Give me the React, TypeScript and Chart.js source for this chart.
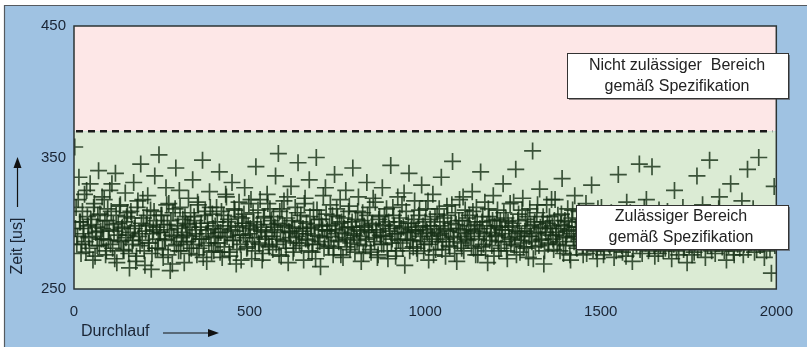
import React, { useEffect, useRef } from "react";
import { Chart, registerables } from "chart.js";

Chart.register(...registerables);

// Run number step between plotted samples (two interleaved sample sets)
const RUN_STEP = 4;

// Measured time per run [us], runs 2, 6, 10, ...
const zeitWerte: number[] = [
  358, 312, 290, 335, 301, 284, 296, 322, 278, 305, 289, 330, 299, 272, 315, 293, 283, 340, 307, 288,
  296, 318, 276, 302, 287, 325, 309, 281, 294, 338, 270, 300, 313, 286, 297, 279, 323, 305, 291, 266,
  309, 284, 331, 298, 275, 317, 292, 345, 287, 304, 268, 299, 321, 285, 310, 277, 295, 336, 302, 281,
  352, 293, 306, 274, 288, 327, 299, 315, 264, 291, 308, 283, 342, 296, 279, 312, 289, 303, 270, 300,
  286, 319, 297, 281, 333, 305, 292, 276, 314, 288, 300, 348, 283, 309, 271, 295, 324, 290, 307, 279,
  298, 312, 285, 339, 293, 274, 306, 289, 320, 301, 278, 295, 331, 287, 310, 269, 297, 316, 284, 304,
  291, 327, 300, 282, 315, 296, 273, 308, 289, 343, 299, 285, 318, 294, 277, 305, 290, 322, 283, 311,
  302, 280, 295, 336, 288, 353, 309, 275, 299, 317, 286, 304, 270, 293, 328, 297, 281, 312, 290, 346,
  285, 306, 294, 272, 319, 300, 287, 333, 296, 278, 310, 291, 350, 284, 303, 267, 298, 321, 289, 307,
  295, 282, 314, 299, 276, 337, 292, 305, 286, 318, 301, 274, 296, 325, 288, 309, 280, 297, 342, 291,
  303, 287, 320, 294, 271, 308, 298, 283, 331, 295, 312, 278, 300, 289, 316, 293, 276, 305, 290, 327,
  284, 299, 311, 273, 296, 344, 288, 306, 292, 279, 320, 301, 285, 314, 297, 268, 309, 293, 338, 287,
  300, 282, 317, 295, 277, 306, 290, 329, 298, 284, 311, 293, 272, 303, 288, 322, 296, 280, 307, 291,
  298, 335, 286, 304, 275, 313, 294, 282, 300, 347, 289, 308, 271, 296, 318, 285, 302, 279, 310, 292,
  287, 306, 295, 324, 281, 299, 312, 276, 293, 339, 301, 284, 316, 290, 270, 305, 296, 283, 321, 298,
  291, 310, 279, 302, 295, 330, 286, 304, 273, 297, 315, 288, 300, 283, 341, 294, 307, 278, 292, 319,
  285, 303, 296, 274, 311, 290, 355, 299, 282, 308, 293, 326, 287, 301, 269, 296, 314, 284, 305, 291,
  298, 280, 318, 293, 306, 286, 299, 334, 277, 302, 289, 311, 295, 272, 304, 290, 321, 283, 297, 309,
  288, 301, 276, 295, 315, 284, 299, 292, 329, 280, 305, 290, 273, 298, 286, 312, 294, 279, 302, 287,
  296, 283, 308, 291, 274, 300, 289, 337, 285, 297, 278, 303, 292, 316, 281, 295, 288, 271, 306, 293,
  284, 299, 345, 290, 277, 302, 286, 318, 294, 281, 296, 343, 288, 275, 304, 291, 310, 283, 297, 279,
  293, 286, 309, 280, 298, 273, 292, 325, 287, 301, 276, 295, 289, 312, 282, 299, 270, 294, 285, 306,
  290, 278, 301, 336, 287, 296, 281, 314, 293, 274, 299, 288, 348, 283, 305, 291, 277, 297, 286, 320,
  295, 282, 303, 289, 272, 298, 286, 330, 292, 279, 307, 294, 284, 300, 288, 317, 276, 297, 290, 341,
  284, 299, 292, 311, 278, 296, 287, 350, 283, 302, 293, 274, 289, 305, 297, 281, 262, 298, 328, 291,
];

// Measured time per run [us], runs 4, 8, 12, ...
const zeitWerteB: number[] = [
  296, 284, 318, 301, 277, 309, 292, 286, 325, 298, 281, 303, 290, 312, 275, 297, 306, 283, 294, 320,
  288, 302, 279, 311, 295, 284, 330, 299, 273, 306, 291, 287, 314, 296, 280, 301, 289, 308, 277, 293,
  304, 287, 296, 271, 312, 290, 283, 300, 318, 279, 294, 306, 285, 298, 265, 292, 309, 281, 297, 288,
  293, 306, 280, 299, 287, 314, 276, 295, 302, 269, 290, 311, 284, 298, 325, 279, 293, 286, 305, 291,
  299, 277, 308, 290, 284, 302, 295, 316, 281, 297, 288, 274, 306, 292, 300, 285, 312, 278, 296, 289,
  285, 301, 293, 278, 309, 296, 282, 322, 290, 303, 275, 298, 287, 311, 294, 280, 305, 291, 272, 300,
  307, 289, 281, 298, 292, 318, 286, 301, 279, 295, 310, 284, 297, 272, 304, 288, 293, 315, 282, 299,
  290, 305, 297, 284, 300, 276, 293, 311, 287, 298, 281, 320, 294, 289, 302, 278, 296, 285, 308, 292,
  301, 283, 296, 315, 288, 292, 279, 305, 297, 284, 299, 273, 310, 290, 286, 303, 295, 281, 327, 294,
  283, 298, 290, 306, 281, 295, 311, 287, 300, 276, 293, 304, 289, 282, 297, 313, 285, 301, 292, 278,
  295, 309, 284, 290, 302, 277, 297, 288, 306, 293, 280, 299, 319, 286, 295, 274, 303, 291, 284, 298,
  306, 290, 279, 301, 294, 285, 312, 298, 275, 292, 287, 304, 296, 281, 323, 293, 288, 300, 279, 295,
  287, 303, 294, 281, 297, 310, 286, 292, 279, 301, 295, 317, 284, 298, 290, 276, 305, 293, 286, 311,
  292, 280, 301, 295, 288, 306, 283, 296, 314, 290, 277, 299, 286, 302, 293, 281, 320, 295, 288, 304,
  298, 290, 283, 309, 294, 276, 301, 288, 296, 282, 305, 292, 279, 298, 311, 287, 293, 302, 275, 290,
  303, 286, 297, 281, 292, 308, 295, 279, 301, 289, 284, 298, 316, 290, 276, 302, 293, 287, 310, 282,
  294, 281, 305, 290, 298, 286, 273, 301, 292, 314, 283, 297, 288, 305, 279, 293, 300, 285, 296, 318,
  288, 302, 291, 284, 296, 279, 307, 290, 298, 283, 294, 301, 276, 292, 310, 286, 297, 281, 303, 290,
  297, 283, 300, 289, 277, 306, 292, 285, 296, 302, 288, 279, 311, 294, 283, 299, 276, 291, 287, 305,
  284, 295, 290, 302, 286, 279, 297, 291, 304, 283, 293, 288, 275, 299, 286, 308, 292, 280, 296, 289,
  293, 287, 280, 298, 291, 312, 285, 294, 279, 300, 287, 293, 283, 306, 290, 277, 295, 288, 302, 284,
  281, 297, 290, 286, 303, 292, 284, 296, 279, 291, 305, 287, 294, 280, 298, 289, 301, 283, 292, 276,
  299, 285, 292, 280, 295, 289, 302, 286, 297, 291, 283, 306, 288, 279, 294, 300, 285, 292, 311, 287,
  286, 294, 279, 297, 290, 283, 301, 288, 295, 276, 292, 286, 303, 281, 296, 290, 284, 299, 293, 280,
  291, 285, 300, 288, 296, 280, 293, 287, 302, 290, 284, 297, 279, 292, 286, 300, 288, 295, 283, 292,
];

// Specification limit [us]
const GRENZWERT = 370;

// Axis ranges / ticks
const X_MIN = 0;
const X_MAX = 2000;
const X_STEP = 500;
const Y_MIN = 250;
const Y_MAX = 450;
const Y_STEP = 100;

// Texts
const Y_TITEL = "Zeit [us]";
const X_TITEL = "Durchlauf";
const BOX_OBEN = ["Nicht zulässiger  Bereich", "gemäß Spezifikation"];
const BOX_UNTEN = ["Zulässiger Bereich", "gemäß Spezifikation"];

const FONT = "'Liberation Sans', Arial, sans-serif";
const MARKER = "rgba(22,48,22,0.82)";

const hintergrundPlugin = {
  id: "hintergrund",
  beforeDraw(chart: any) {
    const { ctx, chartArea, scales } = chart;
    const W = chart.width;
    const H = chart.height;
    ctx.save();
    ctx.fillStyle = "#ffffff";
    ctx.fillRect(0, 0, W, H);
    ctx.fillStyle = "#9fc2e2";
    ctx.fillRect(4, 5, W - 4, H - 5);
    ctx.strokeStyle = "#555a60";
    ctx.lineWidth = 1.2;
    ctx.beginPath();
    ctx.moveTo(4.5, H);
    ctx.lineTo(4.5, 5.5);
    ctx.lineTo(W, 5.5);
    ctx.stroke();

    const yg = scales.y.getPixelForValue(GRENZWERT);
    ctx.fillStyle = "#fde7e7";
    ctx.fillRect(chartArea.left, chartArea.top, chartArea.right - chartArea.left, yg - chartArea.top);
    ctx.fillStyle = "#dbebd4";
    ctx.fillRect(chartArea.left, yg, chartArea.right - chartArea.left, chartArea.bottom - yg);

    ctx.strokeStyle = "#1a1a1a";
    ctx.lineWidth = 2.5;
    ctx.setLineDash([7, 5]);
    ctx.beginPath();
    ctx.moveTo(chartArea.left + 2, yg);
    ctx.lineTo(chartArea.right - 4, yg);
    ctx.stroke();
    ctx.setLineDash([]);
    ctx.restore();
  },
  afterDatasetsDraw(chart: any) {
    const { ctx, chartArea } = chart;
    ctx.save();
    ctx.strokeStyle = "#2b3535";
    ctx.lineWidth = 1.5;
    ctx.strokeRect(chartArea.left, chartArea.top, chartArea.right - chartArea.left, chartArea.bottom - chartArea.top);

    const box = (x: number, y: number, w: number, h: number, lines: string[], cx: number, ly: number[]) => {
      ctx.fillStyle = "rgba(60,60,60,0.55)";
      ctx.fillRect(x + 2, y + 2, w, h);
      ctx.fillStyle = "#ffffff";
      ctx.fillRect(x, y, w, h);
      ctx.strokeStyle = "#333333";
      ctx.lineWidth = 1;
      ctx.strokeRect(x + 0.5, y + 0.5, w, h);
      ctx.fillStyle = "#222222";
      ctx.font = `16px ${FONT}`;
      ctx.textAlign = "center";
      ctx.textBaseline = "middle";
      lines.forEach((t, i) => ctx.fillText(t, cx, ly[i]));
    };
    box(567, 53, 221, 45, BOX_OBEN, 677, [66, 87]);
    box(576, 205, 212, 44, BOX_UNTEN, 681, [217, 238]);

    ctx.fillStyle = "#1a2535";
    ctx.strokeStyle = "#111111";
    ctx.font = `16px ${FONT}`;
    ctx.textBaseline = "middle";
    ctx.textAlign = "left";
    ctx.fillText(X_TITEL, 81, 332);
    ctx.lineWidth = 1.2;
    ctx.beginPath();
    ctx.moveTo(163, 333);
    ctx.lineTo(210, 333);
    ctx.stroke();
    ctx.fillStyle = "#111111";
    ctx.beginPath();
    ctx.moveTo(219, 333);
    ctx.lineTo(208, 329);
    ctx.lineTo(208, 337);
    ctx.closePath();
    ctx.fill();

    ctx.save();
    ctx.translate(18, 246);
    ctx.rotate(-Math.PI / 2);
    ctx.textAlign = "center";
    ctx.fillStyle = "#1a2535";
    ctx.fillText(Y_TITEL, 0, 0);
    ctx.restore();
    ctx.beginPath();
    ctx.moveTo(17.5, 207);
    ctx.lineTo(17.5, 166);
    ctx.stroke();
    ctx.beginPath();
    ctx.moveTo(17.5, 157);
    ctx.lineTo(13.5, 168);
    ctx.lineTo(21.5, 168);
    ctx.closePath();
    ctx.fill();
    ctx.restore();
  },
};

export default function App() {
  const canvasRef = useRef<HTMLCanvasElement | null>(null);

  useEffect(() => {
    if (!canvasRef.current) return;
    const punkteA = zeitWerte.map((v, i) => ({ x: i * RUN_STEP + 2, y: v }));
    const punkteB = zeitWerteB.map((v, i) => ({ x: i * RUN_STEP + 4, y: v }));
    const ds = (label: string, data: any[]) =>
      ({
        label,
        data,
        pointStyle: "cross",
        pointRadius: 8.5,
        pointHoverRadius: 8.5,
        borderWidth: 1.7,
        borderColor: MARKER,
        backgroundColor: MARKER,
        clip: 0,
      } as any);
    const chart = new Chart(canvasRef.current, {
      type: "scatter",
      data: { datasets: [ds("Zeit A", punkteA), ds("Zeit B", punkteB)] },
      options: {
        animation: false,
        responsive: false,
        maintainAspectRatio: false,
        events: [],
        layout: { padding: { left: 0, top: 26, right: 8, bottom: 0 } },
        plugins: {
          legend: { display: false },
          tooltip: { enabled: false },
        },
        scales: {
          x: {
            type: "linear",
            min: X_MIN,
            max: X_MAX,
            grid: { display: false, drawTicks: false },
            border: { display: false },
            ticks: {
              stepSize: X_STEP,
              padding: 14,
              color: "#1a2535",
              font: { family: FONT, size: 15 },
              maxRotation: 0,
              callback: (v: any) => String(v),
            },
            afterFit: (s: any) => {
              s.height = 58;
            },
          },
          y: {
            type: "linear",
            min: Y_MIN,
            max: Y_MAX,
            grid: { display: false, drawTicks: false },
            border: { display: false },
            ticks: {
              stepSize: Y_STEP,
              padding: 8,
              color: "#1a2535",
              font: { family: FONT, size: 15 },
              callback: (v: any) => String(v),
            },
            afterFit: (s: any) => {
              s.width = 74;
            },
          },
        },
      },
      plugins: [hintergrundPlugin],
    });
    return () => chart.destroy();
  }, []);

  return (
    <div style={{ position: "fixed", left: 0, top: 0, width: 807, height: 347, background: "#fff" }}>
      <canvas ref={canvasRef} width={807} height={347} style={{ display: "block", width: 807, height: 347 }} />
    </div>
  );
}
